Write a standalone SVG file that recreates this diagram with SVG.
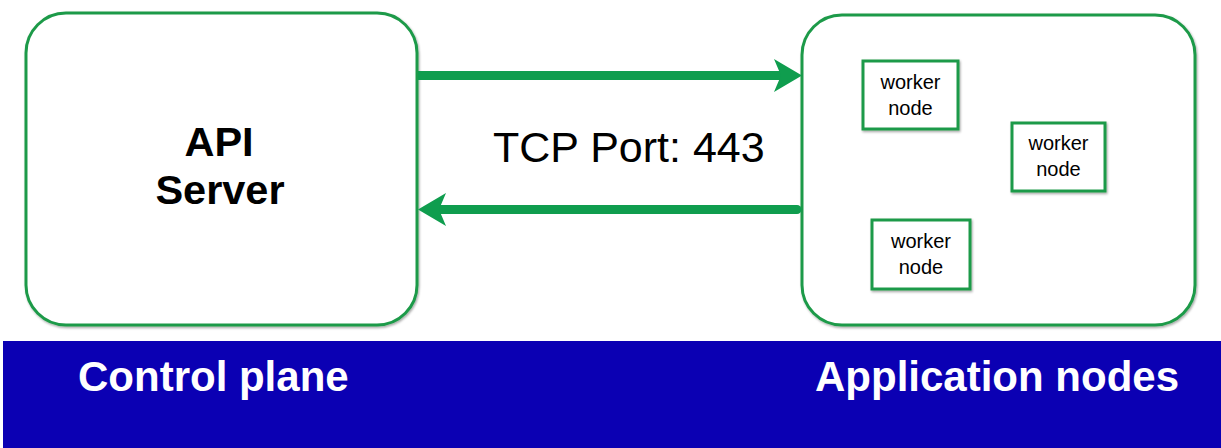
<svg xmlns="http://www.w3.org/2000/svg" width="1221" height="448" viewBox="0 0 1221 448">
  <style>
    .box { fill: #ffffff; stroke: #1e9a48; stroke-width: 3; }
    .wbox { fill: #ffffff; stroke: #1e9a48; stroke-width: 3; }
    .conn { stroke: #0f9d4e; stroke-width: 9; fill: none; }
    .big { font-family: "Liberation Sans", Arial, sans-serif; font-weight: bold; font-size: 41.5px; fill: #000; text-anchor: middle; }
    .wtxt { font-family: "Liberation Sans", Arial, sans-serif; font-size: 20px; fill: #000; text-anchor: middle; }
    .port { font-family: "Liberation Sans", Arial, sans-serif; font-size: 43px; fill: #000; }
    .band { font-family: "Liberation Sans", Arial, sans-serif; font-weight: bold; font-size: 42px; fill: #ffffff; }
  </style>
  <defs>
    <filter id="sh" x="-10%" y="-10%" width="120%" height="120%">
      <feDropShadow dx="1" dy="1.5" stdDeviation="1" flood-color="#000" flood-opacity="0.35"/>
    </filter>
  </defs>
  <rect x="0" y="0" width="1221" height="448" fill="#ffffff"/>
  <rect x="3" y="341" width="1218" height="107" fill="#0b00b3"/>
  <text class="band" x="78" y="391">Control plane</text>
  <text class="band" x="815" y="391">Application nodes</text>

  <g id="api-server">
    <rect class="box" x="26" y="13" width="391" height="312" rx="40" ry="40" filter="url(#sh)"/>
    <text class="big" x="219" y="156">API</text>
    <text class="big" x="220" y="204">Server</text>
  </g>

  <g id="app-nodes">
    <rect class="box" x="802" y="15" width="393" height="310" rx="40" ry="40" filter="url(#sh)"/>
  </g>

  <g id="worker1">
    <rect class="wbox" x="863" y="61" width="95" height="68" filter="url(#sh)"/>
    <text class="wtxt" x="910.5" y="89">worker</text>
    <text class="wtxt" x="910.5" y="115">node</text>
  </g>
  <g id="worker2">
    <rect class="wbox" x="1012" y="123" width="93" height="68" filter="url(#sh)"/>
    <text class="wtxt" x="1058.5" y="150">worker</text>
    <text class="wtxt" x="1058.5" y="176">node</text>
  </g>
  <g id="worker3">
    <rect class="wbox" x="872" y="220" width="98" height="69" filter="url(#sh)"/>
    <text class="wtxt" x="921" y="248">worker</text>
    <text class="wtxt" x="921" y="274">node</text>
  </g>

  <g id="connectors">
    <line class="conn" x1="418" y1="75.5" x2="785" y2="75.5"/>
    <polygon points="802,75.5 774,59 781,75.5 774,92" fill="#0f9d4e"/>
    <line class="conn" x1="797" y1="209.5" x2="433" y2="209.5" stroke-linecap="round"/>
    <polygon points="418,209.5 446,193 439,209.5 446,226" fill="#0f9d4e"/>
    <text class="port" x="493" y="162">TCP Port: 443</text>
  </g>
</svg>
